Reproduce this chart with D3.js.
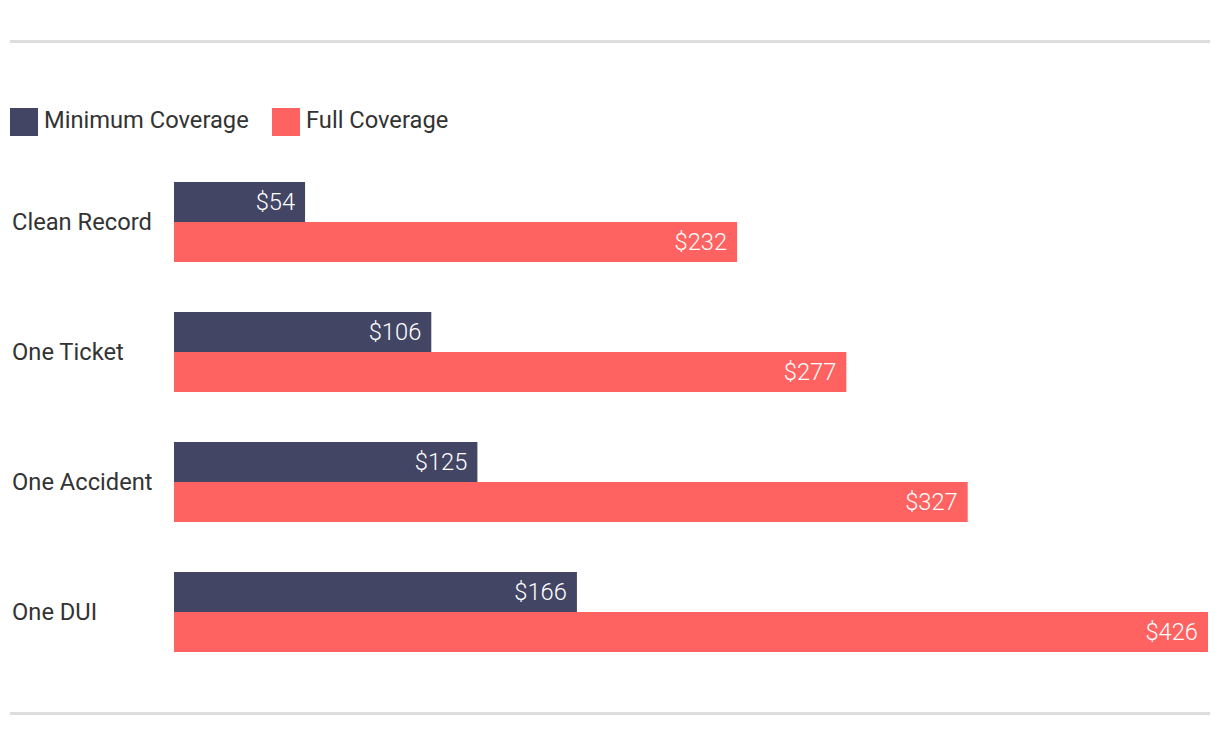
<!DOCTYPE html>
<html><head><meta charset="utf-8">
<script src="https://cdn.jsdelivr.net/npm/d3@7"></script>
<style>body{margin:0;background:#fff;font-family:Roboto,sans-serif;}</style>
</head><body>
<svg id="chart" width="1220" height="748"></svg>
<script>
const categories = ["Clean Record","One Ticket","One Accident","One DUI"];
const seriesNames = ["Minimum Coverage","Full Coverage"];
const minimumValues = [54,106,125,166];
const fullValues = [232,277,327,426];
const seriesColors = ["#424563","#FF6361"];

const svg = d3.select("#chart");
const data = categories.map((c,i)=>({cat:c, vals:[minimumValues[i], fullValues[i]]}));

// separators
svg.append("rect").attr("x",10).attr("y",40).attr("width",1200).attr("height",3).attr("fill","#dddddd");
svg.append("rect").attr("x",10).attr("y",712).attr("width",1200).attr("height",3).attr("fill","#dddddd");

const x = d3.scaleLinear().domain([0,426]).range([174,1208]);
const pIn = 50/130;
const y = d3.scaleBand().domain(categories).range([157,677]).paddingInner(pIn).paddingOuter(pIn/2);
const ys = d3.scaleBand().domain(seriesNames).range([0,y.bandwidth()]);

// legend
const leg = svg.append("g");
const legX = [10,272];
seriesNames.forEach((s,i)=>{
  leg.append("rect").attr("x",legX[i]).attr("y",108).attr("width",28).attr("height",28).attr("fill",seriesColors[i]);
  leg.append("text").attr("x",legX[i]+34).attr("y",120).attr("dy","0.35em")
    .attr("font-size",23.7).attr("fill","#333").text(s);
});

const g = svg.append("g").selectAll("g").data(data).join("g")
  .attr("transform",d=>`translate(0,${y(d.cat)})`);

g.append("text").attr("x",12).attr("y",y.bandwidth()/2).attr("dy","0.35em")
  .attr("font-size",23.7).attr("fill","#333").text(d=>d.cat);

g.selectAll("rect").data(d=>d.vals.map((v,i)=>({v,s:seriesNames[i],i})))
  .join("rect").attr("x",x(0)).attr("y",d=>ys(d.s)).attr("height",ys.bandwidth())
  .attr("width",d=>x(d.v)-x(0)).attr("fill",d=>seriesColors[d.i]);

g.selectAll("text.val").data(d=>d.vals.map((v,i)=>({v,s:seriesNames[i],i})))
  .join("text").attr("class","val").attr("x",d=>x(d.v)-10).attr("y",d=>ys(d.s)+ys.bandwidth()/2)
  .attr("dy","0.35em").attr("text-anchor","end").attr("font-size",23.7).attr("font-weight",300).attr("fill","#fff")
  .text(d=>"$"+d.v);
</script>
</body></html>
